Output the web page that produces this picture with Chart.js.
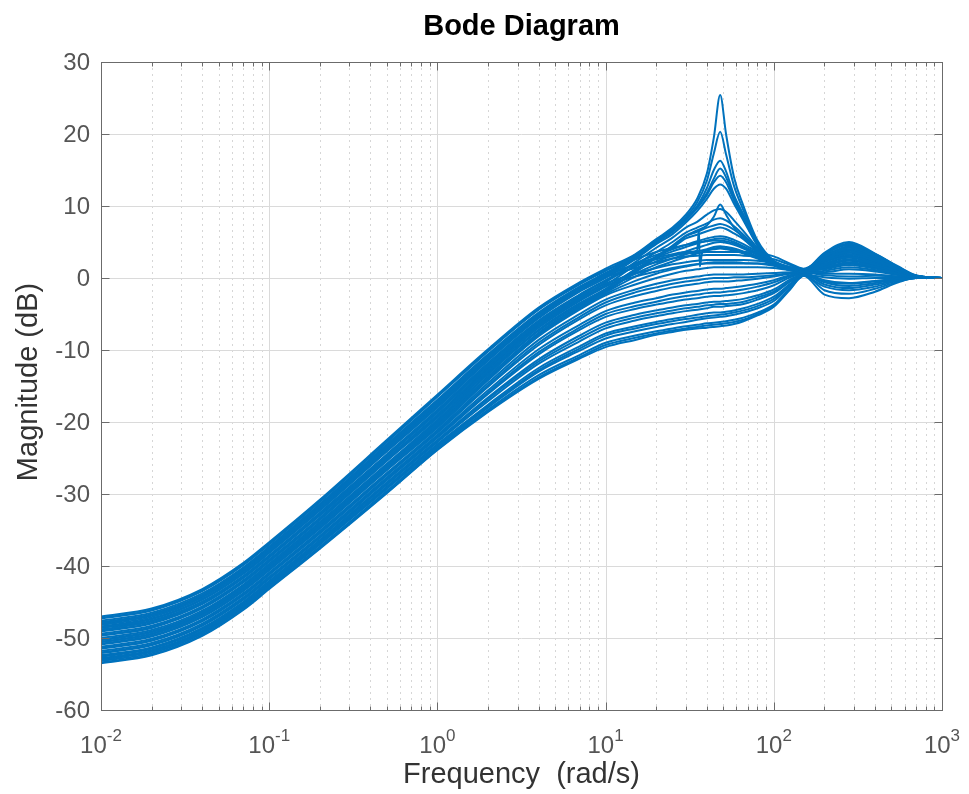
<!DOCTYPE html>
<html>
<head>
<meta charset="utf-8">
<title>Bode Diagram</title>
<script src="https://cdn.jsdelivr.net/npm/chart.js@4/dist/chart.umd.min.js"></script>
<style>
    html, body { margin: 0; padding: 0; background: #fff; }
    #wrap { width: 969px; height: 794px; }
</style>
</head>
<body>
<div id="wrap"><canvas id="bode" width="969" height="794"></canvas></div>
<script>
// frequency points (rad/s), shared by every curve
var freq = [0.01, 0.02, 0.04, 0.07, 0.1, 0.2, 0.5, 1, 2, 4, 7, 10, 15, 20, 25, 30, 35, 40, 44, 48, 52, 58, 66, 80, 100, 125, 150, 200, 280, 400, 550, 700, 1000];

// magnitude (dB) of each response
var c01 = [-47.0, -45.9, -43.2, -39.6, -36.7, -30.8, -22.5, -16.2, -9.9, -4.1, -0.6, 1.3, 3.3, 5.4, 7.0, 8.8, 11.0, 14.5, 19.5, 25.4, 20.0, 14.0, 10.0, 5.2, 2.4, 1.5, 1.2, 3.0, 4.2, 3.0, 1.4, 0.3, 0.0];
var c02 = [-47.3, -46.2, -43.5, -39.9, -37.0, -31.1, -22.8, -16.5, -10.2, -4.4, -0.9, 1.0, 3.2, 5.3, 6.8, 8.5, 10.5, 13.5, 17.3, 20.3, 17.2, 12.8, 9.4, 4.9, 2.2, 1.4, 1.1, 2.6, 3.6, 2.6, 1.2, 0.3, 0.0];
var c03 = [-47.6, -46.5, -43.8, -40.2, -37.3, -31.4, -23.1, -16.9, -10.6, -4.8, -1.2, 0.7, 3.0, 5.1, 6.6, 8.3, 10.0, 12.5, 15.0, 16.3, 14.8, 11.5, 8.8, 4.8, 2.1, 1.3, 1.1, 3.5, 5.0, 3.4, 1.6, 0.4, 0.0];
var c04 = [-47.9, -46.8, -44.1, -40.5, -37.6, -31.7, -23.5, -17.3, -10.9, -5.0, -1.3, 0.5, 1.8, 2.6, 3.1, 3.4, 3.5, 3.6, 3.6, 3.6, 3.6, 3.6, 3.6, 3.5, 3.0, 2.0, 1.3, 2.9, 4.4, 3.1, 1.4, 0.3, 0.0];
var c05 = [-48.2, -47.1, -44.4, -40.8, -37.9, -32.0, -23.8, -17.6, -11.2, -5.2, -1.5, 0.3, 2.8, 4.9, 6.4, 8.0, 9.7, 11.5, 13.3, 14.2, 13.3, 10.8, 8.3, 4.6, 2.0, 1.2, 1.0, 2.4, 3.3, 2.4, 1.1, 0.2, 0.0];
var c06 = [-48.5, -47.4, -44.7, -41.1, -38.2, -32.3, -24.1, -18.0, -11.5, -5.6, -1.9, 0.0, 2.6, 4.7, 6.1, 7.7, 9.3, 11.0, 12.4, 13.0, 12.4, 10.3, 8.0, 4.5, 1.9, 1.1, 0.9, 1.8, 2.6, 1.9, 0.9, 0.2, 0.0];
var c07 = [-48.8, -47.7, -45.0, -41.4, -38.5, -32.6, -24.5, -18.3, -11.8, -5.9, -2.3, -0.3, 2.0, 3.2, 4.0, 4.6, 5.1, 5.5, 5.7, 5.8, 5.7, 5.3, 4.7, 3.6, 2.2, 1.4, 1.1, 3.2, 4.7, 3.2, 1.5, 0.3, 0.0];
var c08 = [-49.1, -48.0, -45.3, -41.7, -38.8, -32.9, -24.8, -18.7, -12.2, -6.2, -2.6, -0.6, 2.2, 4.2, 5.6, 7.0, 7.8, 8.8, 9.4, 9.6, 9.2, 8.0, 6.5, 4.2, 2.0, 1.2, 1.0, 2.0, 2.9, 2.1, 1.0, 0.2, 0.0];
var c09 = [-49.4, -48.3, -45.6, -42.0, -39.1, -33.3, -25.1, -19.0, -12.4, -6.4, -2.8, -0.8, 0.6, 1.4, 1.9, 2.2, 2.4, 2.5, 2.5, 2.5, 2.5, 2.5, 2.5, 2.4, 2.1, 1.5, 1.0, 1.2, 1.8, 1.3, 0.6, 0.1, 0.0];
var c10 = [-49.7, -48.6, -45.9, -42.3, -39.4, -33.6, -25.4, -19.4, -12.8, -6.7, -3.0, -1.0, 1.8, 3.6, 5.0, 6.3, 7.0, 7.6, 8.1, 8.3, 8.0, 7.2, 6.0, 4.0, 1.9, 1.2, 0.9, 2.7, 4.0, 2.8, 1.3, 0.3, 0.0];
var c11 = [-50.0, -48.9, -46.2, -42.6, -39.7, -33.9, -25.8, -19.7, -13.0, -6.9, -3.2, -1.2, 1.0, 2.3, 3.1, 3.7, 4.2, 4.6, 4.9, 5.0, 4.9, 4.6, 4.1, 3.2, 2.0, 1.3, 1.0, 1.5, 2.2, 1.6, 0.8, 0.2, 0.0];
var c12 = [-50.3, -49.2, -46.5, -42.9, -40.0, -34.2, -26.1, -20.1, -13.4, -7.3, -3.6, -1.5, 1.2, 2.9, 4.2, 5.5, 6.0, 6.5, 6.8, 7.0, 6.8, 6.2, 5.4, 3.6, 1.8, 1.1, 0.8, 0.8, 1.2, 0.9, 0.4, 0.1, 0.0];
var c13 = [-50.6, -49.5, -46.8, -43.2, -40.3, -34.5, -26.4, -20.4, -13.8, -7.7, -4.0, -2.0, 0.2, 1.5, 2.3, 2.9, 3.4, 3.8, 4.1, 4.2, 4.1, 3.9, 3.5, 2.8, 1.8, 1.2, 0.9, 0.4, 0.2, 0.3, 0.2, 0.0, 0.0];
var c14 = [-50.9, -49.8, -47.1, -43.5, -40.6, -34.8, -26.7, -20.8, -14.2, -8.1, -4.4, -2.4, -0.9, 0.0, 0.6, 1.0, 1.2, 1.4, 1.5, 1.5, 1.5, 1.5, 1.5, 1.5, 1.4, 1.1, 0.8, -0.3, -0.7, -0.4, -0.1, 0.0, 0.0];
var c15 = [-51.2, -50.1, -47.4, -43.8, -40.9, -35.1, -27.1, -21.1, -14.6, -8.6, -5.0, -3.0, -1.6, -0.8, -0.3, 0.0, 0.2, 0.4, 0.5, 0.5, 0.5, 0.5, 0.5, 0.6, 0.7, 0.8, 0.8, 2.2, 3.3, 2.3, 1.0, 0.2, 0.0];
var c16 = [-51.5, -50.4, -47.7, -44.1, -41.2, -35.5, -27.4, -21.5, -15.1, -9.3, -5.7, -3.8, -2.5, -1.8, -1.3, -1.0, -0.8, -0.6, -0.5, -0.5, -0.5, -0.4, -0.3, -0.1, 0.2, 0.6, 0.8, 2.6, 3.8, 2.6, 1.2, 0.2, 0.0];
var c17 = [-51.8, -50.7, -48.0, -44.4, -41.5, -35.8, -27.7, -21.8, -15.6, -9.9, -6.5, -4.6, -3.4, -2.8, -2.3, -2.0, -1.8, -1.6, -1.5, -1.5, -1.4, -1.3, -1.1, -0.8, -0.3, 0.4, 0.7, 1.7, 2.5, 1.8, 0.8, 0.1, 0.0];
var c18 = [-52.1, -51.0, -48.3, -44.7, -41.8, -36.1, -28.1, -22.2, -16.1, -10.6, -7.2, -5.4, -4.3, -3.7, -3.3, -3.0, -2.8, -2.6, -2.5, -2.5, -2.4, -2.3, -2.1, -1.7, -1.0, 0.1, 0.6, -0.9, -1.4, -0.9, -0.3, 0.0, 0.0];
var c19 = [-52.4, -51.3, -48.6, -45.0, -42.1, -36.4, -28.4, -22.5, -16.6, -11.3, -8.0, -6.2, -5.1, -4.5, -4.1, -3.8, -3.6, -3.4, -3.3, -3.3, -3.2, -3.1, -2.9, -2.4, -1.6, -0.2, 0.6, 3.0, 4.3, 3.0, 1.4, 0.3, 0.0];
var c20 = [-52.6, -51.5, -48.8, -45.2, -42.3, -36.6, -28.7, -22.8, -17.1, -11.9, -8.8, -7.0, -5.9, -5.3, -4.9, -4.6, -4.4, -4.2, -4.0, -4.0, -3.9, -3.8, -3.6, -3.0, -2.1, -0.5, 0.5, 1.0, 1.5, 1.1, 0.5, 0.1, 0.0];
var c21 = [-52.8, -51.7, -49.0, -45.4, -42.5, -36.8, -29.0, -23.1, -17.6, -12.5, -9.5, -7.7, -6.7, -6.1, -5.7, -5.4, -5.1, -4.9, -4.8, -4.8, -4.7, -4.5, -4.2, -3.6, -2.6, -0.8, 0.5, -1.7, -2.2, -1.5, -0.5, 0.0, 0.0];
var c22 = [-53.0, -51.9, -49.2, -45.6, -42.7, -37.0, -29.3, -23.4, -18.0, -13.0, -10.1, -8.4, -7.4, -6.8, -6.4, -6.1, -5.8, -5.6, -5.5, -5.4, -5.3, -5.1, -4.8, -4.2, -3.2, -1.1, 0.4, 2.3, 3.5, 2.4, 1.1, 0.2, 0.0];
var c23 = [-53.2, -52.1, -49.4, -45.8, -42.9, -37.3, -29.6, -23.6, -18.3, -13.5, -10.7, -9.0, -8.0, -7.4, -7.0, -6.7, -6.5, -6.3, -6.2, -6.1, -6.0, -5.8, -5.5, -4.8, -3.7, -1.4, 0.4, -0.5, -0.8, -0.5, -0.2, 0.0, 0.0];
var c24 = [-53.5, -52.4, -49.7, -46.1, -43.2, -37.6, -29.9, -23.9, -18.6, -14.0, -11.2, -9.6, -8.6, -7.9, -7.5, -7.2, -7.0, -6.9, -6.8, -6.7, -6.6, -6.4, -6.0, -5.2, -4.0, -1.6, 0.3, -2.3, -2.8, -1.9, -0.6, 0.0, 0.0];
var c25 = [-47.2, -46.1, -43.4, -39.8, -36.9, -31.0, -22.7, -16.4, -10.1, -4.3, -0.8, 1.1, 2.6, 3.6, 4.2, 4.6, 4.9, 5.1, 5.2, 5.2, 5.1, 4.8, 4.3, 3.4, 2.3, 1.5, 1.2, 2.8, 4.0, 2.9, 1.3, 0.3, 0.0];
var c26 = [-47.8, -46.7, -44.0, -40.4, -37.5, -31.6, -23.3, -17.1, -10.8, -5.0, -1.4, 0.5, 2.9, 5.0, 6.5, 8.1, 9.8, 11.8, 13.8, 15.2, 14.0, 11.2, 8.5, 4.7, 2.0, 1.2, 1.0, 3.3, 4.6, 3.3, 1.5, 0.3, 0.0];
var c27 = [-48.4, -47.3, -44.6, -41.0, -38.1, -32.2, -24.0, -17.8, -11.3, -5.4, -1.7, 0.1, 1.4, 2.2, 2.7, 3.0, 3.1, 3.2, 3.2, 3.2, 3.2, 3.2, 3.1, 3.0, 2.6, 1.8, 1.2, 2.5, 3.9, 2.7, 1.2, 0.2, 0.0];
var c28 = [-49.0, -47.9, -45.2, -41.6, -38.7, -32.8, -24.6, -18.5, -12.0, -6.0, -2.4, -0.4, 1.6, 2.9, 3.7, 4.3, 4.8, 5.2, 5.4, 5.5, 5.4, 5.0, 4.4, 3.4, 2.1, 1.3, 1.0, 1.4, 2.0, 1.5, 0.7, 0.1, 0.0];
var c29 = [-49.6, -48.5, -45.8, -42.2, -39.3, -33.5, -25.3, -19.2, -12.6, -6.6, -3.0, -1.1, 0.2, 0.9, 1.4, 1.7, 1.9, 2.0, 2.0, 2.0, 2.0, 2.0, 2.0, 2.0, 1.8, 1.3, 0.9, 3.4, 4.8, 3.3, 1.5, 0.3, 0.0];
var c30 = [-50.2, -49.1, -46.4, -42.8, -39.9, -34.1, -26.0, -19.9, -13.3, -7.2, -3.5, -1.6, 0.6, 1.9, 2.7, 3.3, 3.7, 4.0, 4.3, 4.4, 4.3, 4.1, 3.7, 3.0, 1.9, 1.2, 0.9, -0.6, -1.1, -0.7, -0.2, 0.0, 0.0];
var c31 = [-50.8, -49.7, -47.0, -43.4, -40.5, -34.7, -26.6, -20.6, -14.0, -7.9, -4.2, -2.2, -0.4, 0.6, 1.2, 1.6, 1.9, 2.1, 2.2, 2.2, 2.2, 2.2, 2.1, 2.0, 1.7, 1.2, 0.9, 1.9, 2.9, 2.0, 0.9, 0.2, 0.0];
var c32 = [-51.4, -50.3, -47.6, -44.0, -41.1, -35.3, -27.3, -21.3, -14.9, -9.0, -5.4, -3.4, -2.0, -1.3, -0.8, -0.5, -0.3, -0.1, 0.0, 0.0, 0.0, 0.1, 0.1, 0.2, 0.4, 0.7, 0.8, 1.3, 2.0, 1.4, 0.6, 0.1, 0.0];
var c33 = [-52.0, -50.9, -48.2, -44.6, -41.7, -36.0, -27.9, -22.0, -15.9, -10.3, -6.9, -5.0, -3.9, -3.3, -2.8, -2.5, -2.3, -2.1, -2.0, -2.0, -1.9, -1.8, -1.6, -1.2, -0.6, 0.3, 0.7, 2.7, 3.9, 2.7, 1.2, 0.2, 0.0];
var c34 = [-52.5, -51.4, -48.7, -45.1, -42.2, -36.5, -28.5, -22.6, -16.8, -11.6, -8.4, -6.6, -5.5, -4.9, -4.5, -4.2, -4.0, -3.8, -3.7, -3.6, -3.6, -3.5, -3.3, -2.7, -1.9, -0.4, 0.5, 0.1, -0.1, 0.0, 0.0, 0.0, 0.0];
var c35 = [-52.9, -51.8, -49.1, -45.5, -42.6, -36.9, -29.1, -23.2, -17.8, -12.8, -9.8, -8.0, -7.0, -6.4, -6.0, -5.7, -5.5, -5.3, -5.2, -5.1, -5.0, -4.8, -4.5, -3.9, -2.9, -1.0, 0.4, 1.6, 2.4, 1.7, 0.8, 0.1, 0.0];
var c36 = [-53.4, -52.3, -49.6, -46.0, -43.1, -37.5, -29.8, -23.8, -18.5, -13.8, -11.0, -9.3, -8.3, -7.7, -7.3, -7.0, -6.8, -6.6, -6.5, -6.4, -6.3, -6.1, -5.8, -5.0, -3.9, -1.5, 0.3, -1.2, -1.7, -1.2, -0.4, 0.0, 0.0];
var c37 = [-48.6, -47.6, -45.0, -41.5, -38.7, -33.0, -25.0, -19.2, -13.1, -7.3, -3.7, -1.8, 0.8, 2.8, 4.3, 5.8, 6.4, 7.0, 7.3, 7.5, 7.3, 6.7, 5.7, 3.8, 1.9, 1.1, 0.9, 2.2, 3.1, 2.2, 1.0, 0.2, 0.0];
var c38 = [-50.5, -49.4, -46.7, -43.1, -40.2, -34.4, -26.3, -20.3, -13.7, -7.6, -3.9, -1.9, 0.9, 3.0, 4.5, 5.9, 6.6, 7.3, 8.5, 10.2, 8.8, 7.0, 5.6, 3.8, 1.9, 1.2, 0.9, 0.6, 0.6, 0.5, 0.2, 0.0, 0.0];

var curves = [c01, c02, c03, c04, c05, c06, c07, c08, c09, c10,
              c11, c12, c13, c14, c15, c16, c17, c18, c19, c20,
              c21, c22, c23, c24, c25, c26, c27, c28, c29, c30,
              c31, c32, c33, c34, c35, c36, c37, c38];

// one response with a very sharp pole/zero pair near 36 rad/s (the thin vertical stroke)
var freqSpike = [0.01, 0.02, 0.04, 0.07, 0.1, 0.2, 0.5, 1, 2, 4, 7, 10, 15, 20, 25, 30, 35, 35.9, 36.3, 37.5, 40, 44, 48, 52, 58, 66, 80, 100, 125, 150, 200, 280, 400, 550, 700, 1000];
var cSpike = [-48.0, -46.9, -44.2, -40.6, -37.7, -31.8, -23.6, -17.4, -11.0, -5.2, -1.6, 0.2, 1.9, 2.8, 3.3, 3.6, 3.8, 6.7, 1.6, 3.5, 3.9, 4.0, 4.1, 4.0, 3.8, 3.4, 2.7, 1.9, 1.3, 1.0, 2.0, 2.8, 2.0, 0.9, 0.2, 0.0];

// axis ticks
var yTicks = [-60, -50, -40, -30, -20, -10, 0, 10, 20, 30];
var xDecades = [-2, -1, 0, 1, 2, 3];

var FONT = '"Liberation Sans", Arial, Helvetica, sans-serif';
var LINE_BLUE = "#0072BD";

/**
 * MATLAB style frame: grid, box, inward ticks and the texts
 */
var bodeFrame = {
    id: "bodeFrame",
    beforeDatasetsDraw: function (chart) {
        var ctx = chart.ctx;
        var area = chart.chartArea;
        var xs = chart.scales.x;
        var ys = chart.scales.y;
        var i, m, px, py;

        ctx.save();
        ctx.lineWidth = 1;

        // minor grid (dotted)
        ctx.strokeStyle = "#d6d6d6";
        ctx.setLineDash([2, 4]);
        for (i = 0; i < xDecades.length - 1; i++) {
            for (m = 2; m <= 9; m++) {
                px = Math.round(xs.getPixelForValue(m * Math.pow(10, xDecades[i]))) + 0.5;
                ctx.beginPath();
                ctx.moveTo(px, area.top);
                ctx.lineTo(px, area.bottom);
                ctx.stroke();
            }
        }

        // major grid
        ctx.setLineDash([]);
        ctx.strokeStyle = "#dadada";
        for (i = 0; i < xDecades.length; i++) {
            px = Math.round(xs.getPixelForValue(Math.pow(10, xDecades[i]))) + 0.5;
            ctx.beginPath();
            ctx.moveTo(px, area.top);
            ctx.lineTo(px, area.bottom);
            ctx.stroke();
        }
        for (i = 0; i < yTicks.length; i++) {
            py = Math.round(ys.getPixelForValue(yTicks[i])) + 0.5;
            ctx.beginPath();
            ctx.moveTo(area.left, py);
            ctx.lineTo(area.right, py);
            ctx.stroke();
        }
        ctx.restore();
    },
    afterDatasetsDraw: function (chart) {
        var ctx = chart.ctx;
        var area = chart.chartArea;
        var xs = chart.scales.x;
        var ys = chart.scales.y;
        var L = Math.round(area.left) + 0.5;
        var R = Math.round(area.right) + 0.5;
        var T = Math.round(area.top) + 0.5;
        var B = Math.round(area.bottom) + 0.5;
        var i, m, px, py;

        ctx.save();
        ctx.strokeStyle = "#6b6b6b";
        ctx.lineWidth = 1;

        // box
        ctx.strokeRect(L, T, R - L, B - T);

        // ticks, pointing inwards
        ctx.beginPath();
        for (i = 0; i < yTicks.length; i++) {
            py = Math.round(ys.getPixelForValue(yTicks[i])) + 0.5;
            ctx.moveTo(L, py); ctx.lineTo(L + 8, py);
            ctx.moveTo(R, py); ctx.lineTo(R - 8, py);
        }
        for (i = 0; i < xDecades.length; i++) {
            px = Math.round(xs.getPixelForValue(Math.pow(10, xDecades[i]))) + 0.5;
            ctx.moveTo(px, B); ctx.lineTo(px, B - 8);
            ctx.moveTo(px, T); ctx.lineTo(px, T + 8);
            if (i < xDecades.length - 1) {
                for (m = 2; m <= 9; m++) {
                    px = Math.round(xs.getPixelForValue(m * Math.pow(10, xDecades[i]))) + 0.5;
                    ctx.moveTo(px, B); ctx.lineTo(px, B - 4);
                    ctx.moveTo(px, T); ctx.lineTo(px, T + 4);
                }
            }
        }
        ctx.stroke();

        // y tick labels
        ctx.fillStyle = "#555555";
        ctx.font = "24px " + FONT;
        ctx.textAlign = "right";
        ctx.textBaseline = "middle";
        for (i = 0; i < yTicks.length; i++) {
            py = ys.getPixelForValue(yTicks[i]);
            ctx.fillText(String(yTicks[i]), area.left - 11, py + 1);
        }

        // x tick labels 10^k
        ctx.textAlign = "left";
        ctx.textBaseline = "alphabetic";
        for (i = 0; i < xDecades.length; i++) {
            px = xs.getPixelForValue(Math.pow(10, xDecades[i]));
            ctx.font = "24px " + FONT;
            var wb = ctx.measureText("10").width;
            ctx.font = "17px " + FONT;
            var ex = String(xDecades[i]);
            var we = ctx.measureText(ex).width;
            var x0 = px - (wb + we) / 2;
            ctx.font = "24px " + FONT;
            ctx.fillText("10", x0, area.bottom + 43);
            ctx.font = "17px " + FONT;
            ctx.fillText(ex, x0 + wb, area.bottom + 31);
        }

        // axis labels
        ctx.fillStyle = "#333333";
        ctx.font = "29px " + FONT;
        ctx.textAlign = "center";
        ctx.textBaseline = "middle";
        ctx.fillText("Frequency  (rad/s)", (area.left + area.right) / 2, 775);
        ctx.save();
        ctx.translate(29, 382);
        ctx.rotate(-Math.PI / 2);
        ctx.fillText("Magnitude (dB)", 0, 0);
        ctx.restore();

        // title
        ctx.fillStyle = "#000000";
        ctx.font = "bold 29px " + FONT;
        ctx.fillText("Bode Diagram", (area.left + area.right) / 2, 27);
        ctx.restore();
    }
};

function makeDataset(xs, mag, name) {
    return {
        label: name,
        data: xs.map(function (f, j) {
            return {x: f, y: mag[j]};
        }),
        borderColor: LINE_BLUE,
        borderWidth: 2,
        pointRadius: 0,
        fill: false,
        cubicInterpolationMode: "monotone"
    };
}

document.addEventListener("DOMContentLoaded", function () {
    var ctx = document.getElementById("bode").getContext("2d");

    var datasets = curves.map(function (mag, k) {
        return makeDataset(freq, mag, "sys" + (k + 1));
    });
    datasets.push(makeDataset(freqSpike, cSpike, "sys" + (curves.length + 1)));

    new Chart(ctx, {
        type: "line",
        data: {datasets: datasets},
        options: {
            responsive: false,
            animation: false,
            devicePixelRatio: 1,
            layout: {
                padding: {left: 101, top: 62, right: 27, bottom: 84}
            },
            scales: {
                x: {
                    type: "logarithmic",
                    min: 0.01,
                    max: 1000,
                    display: false
                },
                y: {
                    type: "linear",
                    min: -60,
                    max: 30,
                    display: false
                }
            },
            plugins: {
                legend: {display: false},
                tooltip: {enabled: false}
            }
        },
        plugins: [bodeFrame]
    });
});
</script>
</body>
</html>
